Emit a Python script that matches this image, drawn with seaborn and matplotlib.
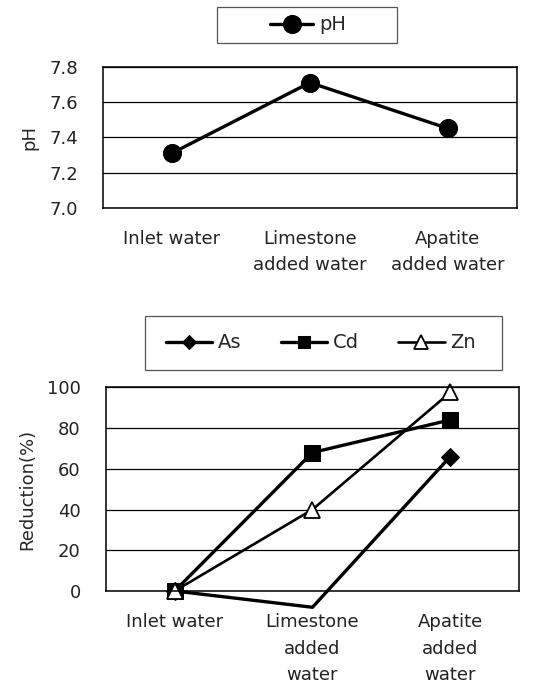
import numpy as np
import pandas as pd
import matplotlib.pyplot as plt
import seaborn as sns
from matplotlib.patches import Rectangle
from matplotlib.ticker import FixedLocator

# data
ph_labels = ["Inlet water", "Limestone\nadded water", "Apatite\nadded water"]
ph_values = [7.31, 7.71, 7.45]

red_labels = ["Inlet water", "Limestone\nadded\nwater", "Apatite\nadded\nwater"]
as_values = [0, -8, 66]
cd_values = [0, 68, 84]
zn_values = [0, 40, 97.5]

sns.set_theme(style="white")
plt.rcParams["font.family"] = ["DejaVu Sans"]

W, H = 554, 688
fig = plt.figure(figsize=(W / 100, H / 100), dpi=100)
ax1 = fig.add_axes([0.186, 0.698, 0.747, 0.205])
ax2 = fig.add_axes([0.191, 0.141, 0.746, 0.296])


def style_axes(ax, yticks, fmt):
    ax.set_xlim(-0.5, 2.5)
    ax.set_yticks(yticks)
    ax.set_yticklabels([fmt.format(v) for v in yticks], fontsize=13)
    ax.set_ylim(yticks[0], yticks[-1])
    ax.yaxis.grid(True, color="black", linewidth=0.9)
    ax.set_axisbelow(True)
    for sp in ax.spines.values():
        sp.set_color("black")
        sp.set_linewidth(1.1)
    ax.tick_params(axis="y", length=0, pad=18, colors="#222222")
    ax.tick_params(axis="x", which="major", length=0, pad=16, labelsize=13, colors="#222222")
    for t in ax.get_xticklabels():
        t.set_linespacing(1.6)
    ax.xaxis.set_minor_locator(FixedLocator([0.5, 1.5]))
    ax.tick_params(axis="x", which="minor", direction="in", length=4, width=1, color="black")
    ax.set_xlabel("")


def legend_box(x0, y0, x1, y1):
    # pixel box (top-left origin) drawn as a plain square frame
    fig.patches.append(Rectangle((x0 / W, 1 - y1 / H), (x1 - x0) / W, (y1 - y0) / H,
                                 transform=fig.transFigure, fill=False,
                                 edgecolor="#555555", linewidth=0.9))


# --- top: pH ---
sns.lineplot(x=ph_labels, y=ph_values, sort=False, ax=ax1, color="black", lw=2.4,
             marker="o", ms=13, mfc="black", mec="black", label="pH")
style_axes(ax1, [7.0, 7.2, 7.4, 7.6, 7.8], "{:.1f}")
ax1.set_ylabel("pH", fontsize=13, labelpad=8)
ax1.legend(loc="center", bbox_to_anchor=(308 / W, 1 - 25 / H), bbox_transform=fig.transFigure,
           frameon=False, fontsize=14, handlelength=2.2, handletextpad=0.3, borderpad=0)
legend_box(217, 7, 397, 43)

# --- bottom: reduction ---
sns.lineplot(x=red_labels, y=as_values, sort=False, ax=ax2, color="black", lw=2.4,
             marker="D", ms=9, mfc="black", mec="black", markevery=[0, 2],
             clip_on=False, label="As")
sns.lineplot(x=red_labels, y=cd_values, sort=False, ax=ax2, color="black", lw=2.4,
             marker="s", ms=11, mfc="black", mec="black", clip_on=False, label="Cd")
sns.lineplot(x=red_labels, y=zn_values, sort=False, ax=ax2, color="black", lw=1.9,
             marker="^", ms=12, mfc="white", mec="black", mew=1.3, clip_on=False, label="Zn")
style_axes(ax2, [0, 20, 40, 60, 80, 100], "{:d}")
ax2.set_ylabel("Reduction(%)", fontsize=13, labelpad=8)
leg2 = ax2.legend(loc="center", bbox_to_anchor=(321 / W, 1 - 343 / H), bbox_transform=fig.transFigure,
                  ncol=3, frameon=False, fontsize=14, markerscale=0.8,
                  handlelength=2.4, columnspacing=2.0, handletextpad=0.3, borderpad=0)
legend_box(145, 316, 502, 370)

fig.savefig("out.png", dpi=100)
